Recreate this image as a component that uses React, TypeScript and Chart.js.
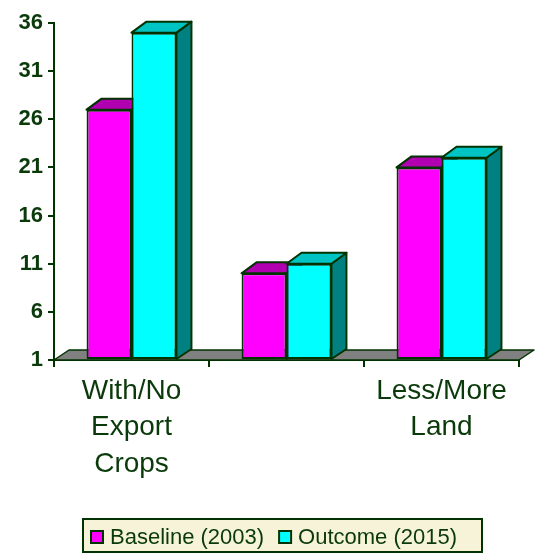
import React, { useEffect, useRef } from 'react';
import { Chart, registerables } from 'chart.js';

Chart.register(...registerables);

const categories: (string | string[])[] = [['With/No', 'Export', 'Crops'], '', ['Less/More', 'Land']];
const seriesNames = ['Baseline (2003)', 'Outcome (2015)'];
const baseline = [27, 10, 21];
const outcome = [35, 11, 22];
const yMin = 1;
const yMax = 36;
const yStep = 5;

const FRONT = ['#FF00FF', '#00FFFF'];
const TOP = ['#B000B0', '#00C4C4'];
const SIDE = ['#800080', '#008080'];
const EDGE = '#003300';
const TEXT = '#0a3a0a';
const FLOOR = '#808080';
const LEGEND_BG = '#F6F3D8';
const FONT = "'Liberation Sans', Arial, sans-serif";
const DX = 15;
const DY = 11;

const threeD = {
  id: 'threeD',
  beforeDatasetsDraw(chart: any) {
    const ctx = chart.ctx;
    const { left, right, bottom } = chart.chartArea;
    ctx.save();
    ctx.lineJoin = 'round';
    // floor
    ctx.beginPath();
    ctx.moveTo(left, bottom);
    ctx.lineTo(left + DX, bottom - 10);
    ctx.lineTo(right + DX, bottom - 10);
    ctx.lineTo(right, bottom);
    ctx.closePath();
    ctx.fillStyle = FLOOR;
    ctx.fill();
    ctx.strokeStyle = EDGE;
    ctx.lineWidth = 1.5;
    ctx.stroke();
    // bar tops and sides
    const n = chart.data.labels.length;
    for (let i = 0; i < n; i++) {
      for (let d = 0; d < chart.data.datasets.length; d++) {
        const el = chart.getDatasetMeta(d).data[i];
        if (!el) continue;
        const l = el.x - el.width / 2;
        const r = el.x + el.width / 2;
        const t = el.y;
        const b = Math.min(el.base, bottom);
        ctx.lineWidth = 2;
        ctx.strokeStyle = EDGE;
        // side
        ctx.beginPath();
        ctx.moveTo(r, t);
        ctx.lineTo(r + DX, t - DY);
        ctx.lineTo(r + DX, b - 10);
        ctx.lineTo(r, b);
        ctx.closePath();
        ctx.fillStyle = SIDE[d];
        ctx.fill();
        ctx.stroke();
        // top
        ctx.beginPath();
        ctx.moveTo(l, t);
        ctx.lineTo(l + DX, t - DY);
        ctx.lineTo(r + DX, t - DY);
        ctx.lineTo(r, t);
        ctx.closePath();
        ctx.fillStyle = TOP[d];
        ctx.fill();
        ctx.stroke();
      }
    }
    ctx.restore();
  },
  afterDraw(chart: any) {
    const ctx = chart.ctx;
    ctx.save();
    const bx = 83, by = 519, bw = 399, bh = 33;
    ctx.fillStyle = LEGEND_BG;
    ctx.fillRect(bx, by, bw, bh);
    ctx.strokeStyle = EDGE;
    ctx.lineWidth = 2;
    ctx.strokeRect(bx, by, bw, bh);
    ctx.font = `22px ${FONT}`;
    ctx.textBaseline = 'middle';
    ctx.textAlign = 'left';
    const cy = 537;
    let x = 91;
    chart.data.datasets.forEach((ds: any, d: number) => {
      ctx.fillStyle = FRONT[d];
      ctx.fillRect(x, cy - 6, 12, 12);
      ctx.lineWidth = 2;
      ctx.strokeStyle = EDGE;
      ctx.strokeRect(x, cy - 6, 12, 12);
      ctx.fillStyle = TEXT;
      ctx.fillText(ds.label, x + 19, cy + 1);
      x += 19 + ctx.measureText(ds.label).width + 15;
    });
    ctx.restore();
  },
};

export default function App() {
  const ref = useRef<HTMLCanvasElement>(null);
  useEffect(() => {
    if (!ref.current) return;
    const chart = new Chart(ref.current, {
      type: 'bar',
      data: {
        labels: categories,
        datasets: [
          {
            label: seriesNames[0],
            data: baseline,
            backgroundColor: FRONT[0],
            borderColor: EDGE,
            borderWidth: 2,
            borderSkipped: false,
          },
          {
            label: seriesNames[1],
            data: outcome,
            backgroundColor: FRONT[1],
            borderColor: EDGE,
            borderWidth: 2,
            borderSkipped: false,
          },
        ],
      } as any,
      options: {
        responsive: false,
        animation: false,
        devicePixelRatio: 1,
        layout: { padding: { top: 23, right: 16, bottom: 0, left: 0 } },
        datasets: { bar: { categoryPercentage: 0.58, barPercentage: 1, base: yMin } },
        plugins: { legend: { display: false }, tooltip: { enabled: false } },
        scales: {
          x: {
            grid: {
              offset: true,
              drawOnChartArea: false,
              drawTicks: true,
              tickLength: 7,
              color: EDGE,
              lineWidth: 2,
            },
            border: { display: true, color: EDGE, width: 2 },
            ticks: {
              color: TEXT,
              font: { family: FONT, size: 28, lineHeight: 1.3 },
              maxRotation: 0,
              autoSkip: false,
              padding: 6,
            },
            afterFit: (s: any) => {
              s.height = 193;
            },
          },
          y: {
            min: yMin,
            max: yMax,
            grid: {
              drawOnChartArea: false,
              drawTicks: true,
              tickLength: 6,
              color: EDGE,
              lineWidth: 2,
            },
            border: { display: true, color: EDGE, width: 2 },
            ticks: {
              stepSize: yStep,
              color: TEXT,
              font: { family: FONT, size: 22, weight: 'bold' },
              padding: 5,
            },
            afterFit: (s: any) => {
              s.width = 54;
            },
          },
        },
      } as any,
      plugins: [threeD],
    });
    return () => chart.destroy();
  }, []);
  return (
    <div style={{ position: 'fixed', left: 0, top: 0, width: 535, height: 553, background: '#fff' }}>
      <canvas ref={ref} width={535} height={553} />
    </div>
  );
}
